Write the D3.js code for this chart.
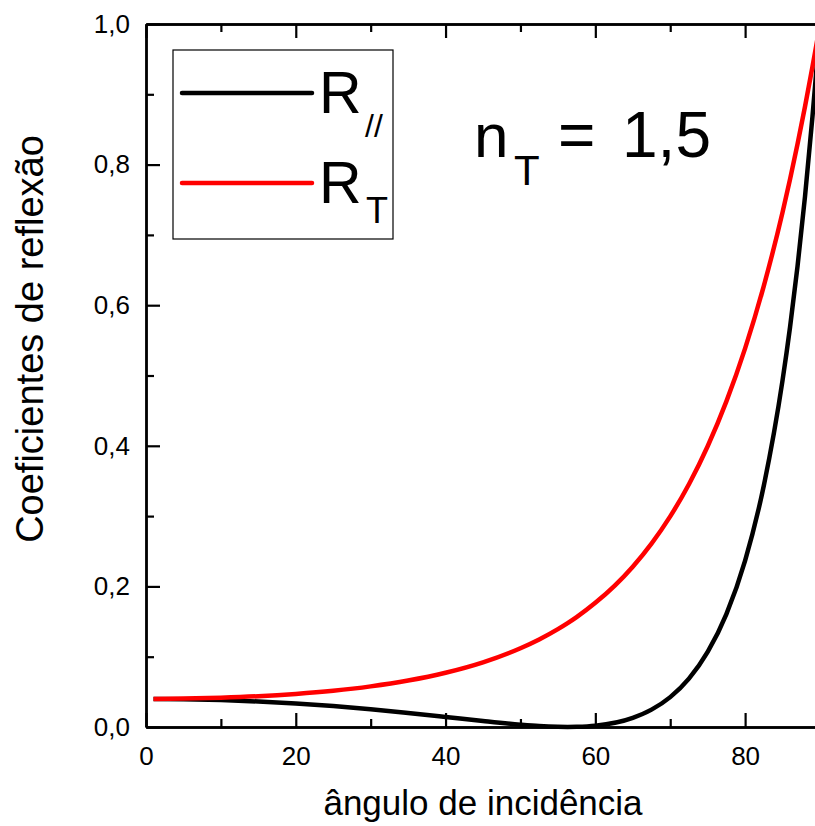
<!DOCTYPE html>
<html>
<head>
<meta charset="utf-8">
<script src="https://cdn.jsdelivr.net/npm/d3@7"></script>
<style>
  body { margin: 0; background: #fff; }
  svg { font-family: "Liberation Sans", Arial, sans-serif; display: block; }
</style>
</head>
<body>
<script>
// angles of incidence (degrees) and reflection coefficients
const angles = [1, 5, 10, 15, 20, 25, 30, 35, 40, 45, 50, 52.5, 55, 56.3, 57.5, 60, 65, 67.5, 70, 72.5, 75, 77.5, 80, 82.5, 85, 86, 87, 88, 89, 89.5, 90];
const rParallel = [0.040, 0.0396, 0.0384, 0.0363, 0.0335, 0.0298, 0.0253, 0.0200, 0.0143, 0.0085, 0.0033, 0.0013, 0.0002, 0.0, 0.0002, 0.0018, 0.0130, 0.0247, 0.0425, 0.0688, 0.1068, 0.1607, 0.2368, 0.3436, 0.4932, 0.5688, 0.6555, 0.7548, 0.8689, 0.9322, 1.0];
const rPerp = [0.040, 0.0404, 0.0417, 0.0438, 0.0471, 0.0516, 0.0578, 0.0661, 0.0772, 0.0920, 0.1121, 0.1246, 0.1393, 0.1479, 0.1564, 0.1766, 0.2281, 0.2609, 0.2996, 0.3453, 0.3994, 0.4632, 0.5386, 0.6276, 0.7323, 0.7793, 0.8293, 0.8826, 0.9395, 0.9693, 1.0];

const xMajor = [0, 20, 40, 60, 80];
const xMinor = [10, 30, 50, 70, 90];
const yMajor = [0, 0.2, 0.4, 0.6, 0.8, 1.0];
const yMinor = [0.1, 0.3, 0.5, 0.7, 0.9];

const width = 815;
const height = 826;
const margin = { top: 24, right: -5, bottom: 99, left: 146 };

const svg = d3.select('body')
  .append('svg')
  .attr('width', width)
  .attr('height', height)

const x = d3.scaleLinear()
  .domain([0, 90])
  .range([margin.left, width - margin.right])

const y = d3.scaleLinear()
  .domain([0, 1])
  .range([height - margin.bottom, margin.top])

// comma decimal like the original
const pt = d3.formatLocale({ decimal: ',', thousands: '.', grouping: [3], currency: ['', ''] });
const fmt = pt.format('.1f');

// axes, ticks pointing inward
function styleAxis(g) {
  g.attr('font-family', '"Liberation Sans", Arial, sans-serif')
    .attr('font-size', 26)
  g.selectAll('.domain').attr('stroke-width', 2.4)
  g.selectAll('.tick line').attr('stroke-width', 2.2)
  g.selectAll('text').attr('fill', '#000')
}

svg.append('g')
  .attr('transform', `translate(0, ${y(0)})`)
  .call(d3.axisBottom(x).tickValues(xMajor).tickSize(-14).tickSizeOuter(0).tickPadding(20))
  .call(styleAxis)

svg.append('g')
  .attr('transform', `translate(0, ${y(0)})`)
  .call(d3.axisBottom(x).tickValues(xMinor).tickSize(-8).tickSizeOuter(0).tickFormat(''))
  .call(styleAxis)

svg.append('g')
  .attr('transform', `translate(0, ${y(1)})`)
  .call(d3.axisTop(x).tickValues(xMajor).tickSize(-14).tickSizeOuter(0).tickFormat(''))
  .call(styleAxis)

svg.append('g')
  .attr('transform', `translate(0, ${y(1)})`)
  .call(d3.axisTop(x).tickValues(xMinor).tickSize(-8).tickSizeOuter(0).tickFormat(''))
  .call(styleAxis)

svg.append('g')
  .attr('transform', `translate(${x(0)}, 0)`)
  .call(d3.axisLeft(y).tickValues(yMajor).tickSize(-14).tickSizeOuter(0).tickPadding(16).tickFormat(fmt))
  .call(styleAxis)

svg.append('g')
  .attr('transform', `translate(${x(0)}, 0)`)
  .call(d3.axisLeft(y).tickValues(yMinor).tickSize(-8).tickSizeOuter(0).tickFormat(''))
  .call(styleAxis)

// curves
const line = (vals) => d3.line()
  .x((d, i) => x(angles[i]))
  .y((d) => y(d))
  .curve(d3.curveMonotoneX)(vals);

svg.append('path')
  .attr('d', line(rParallel))
  .attr('fill', 'none')
  .attr('stroke', '#000')
  .attr('stroke-width', 4.5)

svg.append('path')
  .attr('d', line(rPerp))
  .attr('fill', 'none')
  .attr('stroke', '#ff0000')
  .attr('stroke-width', 4.5)

// axis titles
svg.append('text')
  .attr('x', (x(0) + x(90)) / 2)
  .attr('y', 815)
  .attr('text-anchor', 'middle')
  .attr('font-size', 35)
  .text('ângulo de incidência')

svg.append('text')
  .attr('transform', 'translate(43, 339) rotate(-90)')
  .attr('text-anchor', 'middle')
  .attr('font-size', 38)
  .text('Coeficientes de reflexão')

// legend
const legend = svg.append('g')

legend.append('rect')
  .attr('x', 173)
  .attr('y', 50)
  .attr('width', 220)
  .attr('height', 189)
  .attr('fill', '#fff')
  .attr('stroke', '#000')
  .attr('stroke-width', 1.2)

const legendItems = [
  { color: '#000', sub: '//', ly: 93, base: 113, subX: 365, subBase: 137, subSize: 32 },
  { color: '#ff0000', sub: 'T', ly: 183, base: 203, subX: 366, subBase: 223, subSize: 36 }
];

legendItems.forEach((d) => {
  legend.append('line')
    .attr('x1', 182).attr('x2', 312)
    .attr('y1', d.ly).attr('y2', d.ly)
    .attr('stroke', d.color)
    .attr('stroke-width', 4.5)
    .attr('stroke-linecap', 'round')
  legend.append('text')
    .attr('x', 319).attr('y', d.base)
    .attr('font-size', 59)
    .text('R')
  legend.append('text')
    .attr('x', d.subX).attr('y', d.subBase)
    .attr('font-size', d.subSize)
    .text(d.sub)
})

// annotation
svg.append('text')
  .attr('x', 474).attr('y', 157)
  .attr('font-size', 62)
  .text('n')
svg.append('text')
  .attr('x', 514).attr('y', 185)
  .attr('font-size', 42)
  .text('T')
svg.append('text')
  .attr('x', 558).attr('y', 157)
  .attr('font-size', 64)
  .text('=')
svg.append('text')
  .attr('x', 622).attr('y', 157)
  .attr('font-size', 64)
  .text('1,5')
</script>
</body>
</html>
